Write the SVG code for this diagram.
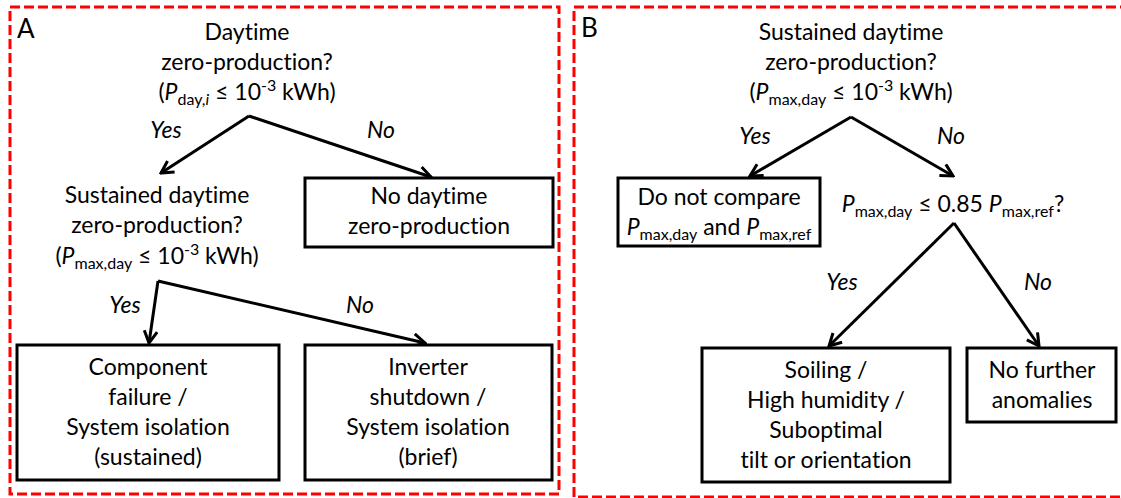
<svg xmlns="http://www.w3.org/2000/svg" width="1121" height="498" viewBox="0 0 1121 498">
<style>
.t{font-family:Lato,"Open Sans","Liberation Sans",sans-serif;font-size:23px;fill:#000;text-anchor:middle;font-variant-ligatures:none}
.i{font-style:italic}
.s{font-size:16px}
.lab{font-family:Lato,"Open Sans","Liberation Sans",sans-serif;font-size:23px;font-style:italic;fill:#000;text-anchor:middle}
.box{fill:#fff;stroke:#000;stroke-width:3}
.panel{fill:none;stroke:#ff0000;stroke-width:3;stroke-dasharray:10 4}
.arr{fill:none;stroke:#000;stroke-width:3;marker-end:url(#ah)}
</style>
<defs>
<marker id="ah" viewBox="0 0 16 16" refX="14" refY="8" markerWidth="16" markerHeight="16" markerUnits="userSpaceOnUse" orient="auto">
<path d="M2,1.5 L14,8 L2,14.5" fill="none" stroke="#000" stroke-width="3"/>
</marker>
</defs>
<rect id="panelA" class="panel" x="10" y="7" width="549" height="487"/>
<rect id="panelB" class="panel" x="574" y="7" width="560" height="490"/>
<text class="t" x="17" y="38" style="text-anchor:start;font-size:26px">A</text>
<text class="t" x="581" y="37" style="text-anchor:start;font-size:26px">B</text>

<g id="connectors">
<path class="arr" d="M249,116 L161,173"/>
<path class="arr" d="M249,116 L431,177"/>
<path class="arr" d="M158,281 L149,343"/>
<path class="arr" d="M158,281 L425,343"/>
<path class="arr" d="M851,117 L750,176"/>
<path class="arr" d="M851,117 L953,176"/>
<path class="arr" d="M954,223 L829,346"/>
<path class="arr" d="M954,223 L1039,346"/>
<text class="lab" x="166" y="138">Yes</text>
<text class="lab" x="381" y="138">No</text>
<text class="lab" x="125" y="313">Yes</text>
<text class="lab" x="360" y="313">No</text>
<text class="lab" x="755" y="144">Yes</text>
<text class="lab" x="951" y="144">No</text>
<text class="lab" x="842" y="290">Yes</text>
<text class="lab" x="1038" y="290">No</text>
</g>

<g id="q1">
<text class="t" x="247" y="40">Daytime</text>
<text class="t" x="247" y="70">zero-production?</text>
<text class="t" x="247" y="100">(<tspan class="i">P</tspan><tspan class="s" dy="5">day,<tspan class="i">i</tspan></tspan><tspan dy="-5"> ≤ 10</tspan><tspan class="s" dy="-9">-3</tspan><tspan dy="9"> kWh)</tspan></text>
</g>

<g id="q2">
<text class="t" x="157" y="203">Sustained daytime</text>
<text class="t" x="157" y="233">zero-production?</text>
<text class="t" x="157" y="264">(<tspan class="i">P</tspan><tspan class="s" dy="5">max,day</tspan><tspan dy="-5"> ≤ 10</tspan><tspan class="s" dy="-9">-3</tspan><tspan dy="9"> kWh)</tspan></text>
</g>

<g id="noDaytime">
<rect class="box" x="305" y="178" width="248" height="69"/>
<text class="t" x="429" y="204">No daytime</text>
<text class="t" x="429" y="234">zero-production</text>
</g>

<g id="component">
<rect class="box" x="17" y="345" width="262" height="135"/>
<text class="t" x="148" y="375">Component</text>
<text class="t" x="148" y="405">failure /</text>
<text class="t" x="148" y="435">System isolation</text>
<text class="t" x="148" y="465">(sustained)</text>
</g>

<g id="inverter">
<rect class="box" x="305" y="345" width="247" height="135"/>
<text class="t" x="428" y="375">Inverter</text>
<text class="t" x="428" y="405">shutdown /</text>
<text class="t" x="428" y="435">System isolation</text>
<text class="t" x="428" y="465">(brief)</text>
</g>

<g id="q3">
<text class="t" x="851" y="40">Sustained daytime</text>
<text class="t" x="851" y="70">zero-production?</text>
<text class="t" x="851" y="100">(<tspan class="i">P</tspan><tspan class="s" dy="5">max,day</tspan><tspan dy="-5"> ≤ 10</tspan><tspan class="s" dy="-9">-3</tspan><tspan dy="9"> kWh)</tspan></text>
</g>

<g id="doNotCompare">
<rect class="box" x="618" y="178" width="202" height="68"/>
<text class="t" x="719" y="205">Do not compare</text>
<text class="t" x="719" y="235"><tspan class="i">P</tspan><tspan class="s" dy="5">max,day</tspan><tspan dy="-5"> and </tspan><tspan class="i">P</tspan><tspan class="s" dy="5">max,ref</tspan></text>
</g>

<g id="q4">
<text class="t" x="953" y="212"><tspan class="i">P</tspan><tspan class="s" dy="5">max,day</tspan><tspan dy="-5"> ≤ 0.85 </tspan><tspan class="i">P</tspan><tspan class="s" dy="5">max,ref</tspan><tspan dy="-5">?</tspan></text>
</g>

<g id="soiling">
<rect class="box" x="702" y="348" width="248" height="134"/>
<text class="t" x="826" y="378">Soiling /</text>
<text class="t" x="826" y="408">High humidity /</text>
<text class="t" x="826" y="438">Suboptimal</text>
<text class="t" x="826" y="468">tilt or orientation</text>
</g>

<g id="noFurther">
<rect class="box" x="967" y="348" width="149" height="74"/>
<text class="t" x="1042" y="378">No further</text>
<text class="t" x="1042" y="408">anomalies</text>
</g>
</svg>
